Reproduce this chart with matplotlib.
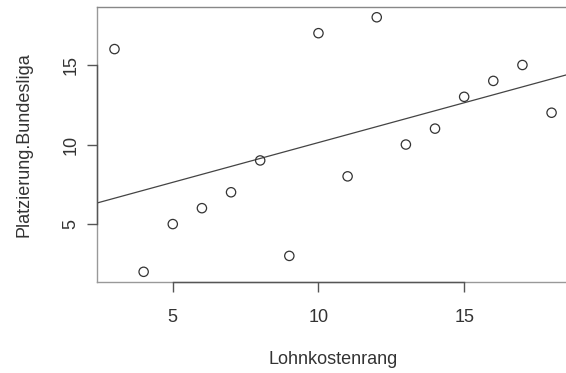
import matplotlib.pyplot as plt
import numpy as np

plt.rcParams['font.family'] = ['Liberation Sans', 'DejaVu Sans']

# Daten
lohnkostenrang = [3, 4, 5, 6, 7, 8, 9, 10, 11, 12, 13, 14, 15, 16, 17, 18]
platzierung = [16, 2, 5, 6, 7, 9, 3, 17, 8, 18, 10, 11, 13, 14, 15, 12]
x_ticks = [5, 10, 15]
y_ticks = [5, 10, 15]

x = np.array(lohnkostenrang)
y = np.array(platzierung)

# lineare Regression (wie abline(lm(...)))
slope, intercept = np.polyfit(x, y, 1)

fig = plt.figure(figsize=(5.66, 3.73), dpi=100)
ax = fig.add_axes([0.1714, 0.244, 0.834, 0.737])

ax.scatter(x, y, s=45, facecolors='none', edgecolors='#333333', linewidths=0.9, zorder=3)

xlim = (2.4, 18.6)
ylim = (1.36, 18.64)
xs = np.array(xlim)
ax.plot(xs, intercept + slope * xs, color='#444444', linewidth=0.9)

ax.set_xlim(*xlim)
ax.set_ylim(*ylim)

for s in ax.spines.values():
    s.set_color('#888888')
    s.set_linewidth(1.0)

# Achsenlinien wie in R (nur zwischen erstem und letztem Tick)
ax.spines['bottom'].set_bounds(x_ticks[0], x_ticks[-1])
ax.spines['left'].set_bounds(y_ticks[0], y_ticks[-1])
ax.spines['bottom'].set_color('#555555')
ax.spines['left'].set_color('#555555')
ax.plot([xlim[0], xlim[1]], [ylim[0], ylim[0]], color='#999999', lw=1.0, clip_on=False, zorder=1)
ax.plot([xlim[0], xlim[0]], [ylim[0], ylim[1]], color='#999999', lw=1.0, clip_on=False, zorder=1)

ax.set_xticks(x_ticks)
ax.set_yticks(y_ticks)
ax.tick_params(direction='out', length=7.5, width=1.0, color='#555555', labelsize=13,
               labelcolor='#333333')
ax.tick_params(axis='x', pad=12)
ax.tick_params(axis='y', pad=5)
plt.setp(ax.get_yticklabels(), rotation=90, va='center')

ax.set_xlabel('Lohnkostenrang', fontsize=13, color='#333333', labelpad=18)
ax.set_ylabel('Platzierung.Bundesliga', fontsize=13, color='#333333', labelpad=22)

fig.savefig('out.png', dpi=100)
